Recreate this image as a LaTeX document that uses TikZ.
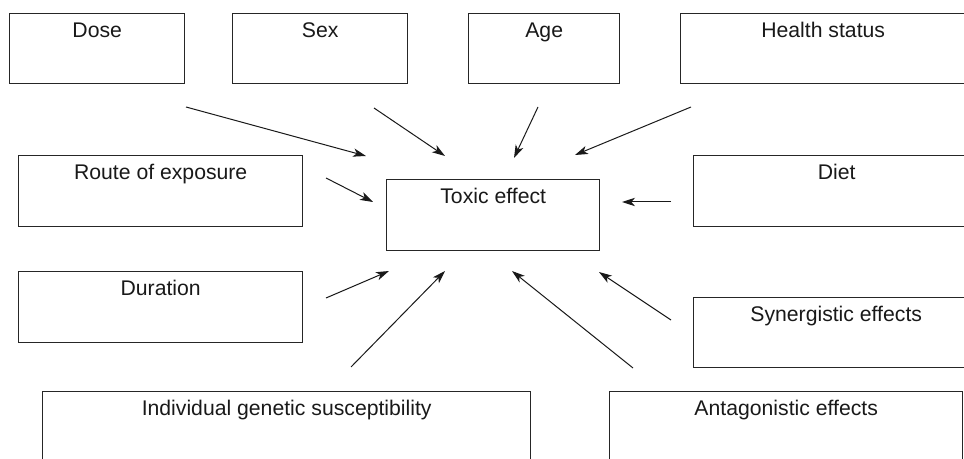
\documentclass[tikz,border=0pt]{standalone}
\usepackage{fontspec}
\setmainfont{Liberation Sans}
\usetikzlibrary{arrows.meta}

\newcommand{\figfont}{\fontsize{10.6}{12}\selectfont}

\tikzset{
  factor/.style={draw=black!85, line width=0.7pt, anchor=north west, inner sep=0pt,
    text height=12pt, font=\figfont, text=black!90},
  influence/.style={-{Stealth[length=6.5pt,width=4.2pt,inset=1.8pt]}, line width=0.5pt, draw=black!90}
}

\begin{document}
\begin{tikzpicture}[x=0.5pt, y=-0.5pt]
    % Fix the frame
    \clip (0,0) rectangle (964,459);

    % Draw the factor boxes
    \node[factor, minimum width=87.5pt, text depth=23pt] (dose) at (9,13) {Dose};
    \node[factor, minimum width=87.5pt, text depth=23pt] (sex) at (232,13) {Sex};
    \node[factor, minimum width=75.5pt, text depth=23pt] (age) at (468,13) {Age};
    \node[factor, minimum width=142.5pt, text depth=23pt] (health) at (680,13) {Health status};
    \node[factor, minimum width=142pt, text depth=23.5pt] (route) at (18,155) {Route of exposure};
    \node[factor, minimum width=143pt, text depth=23.5pt] (diet) at (693,155) {Diet};
    \node[factor, minimum width=106.5pt, text depth=23.5pt] (toxic) at (386,179) {Toxic effect};
    \node[factor, minimum width=142pt, text depth=23.5pt] (duration) at (18,271) {Duration};
    \node[factor, minimum width=142.5pt, text depth=23pt] (synergy) at (693,297) {Synergistic effects};
    \node[factor, minimum width=244pt, text depth=40pt] (genetic) at (42,391) {Individual genetic susceptibility};
    \node[factor, minimum width=176.5pt, text depth=40pt] (antagonism) at (609,391) {Antagonistic effects};

    % Arrow ends
    \coordinate (dose-out) at (186,107);   \coordinate (dose-in) at (366,156);
    \coordinate (sex-out) at (374,108);    \coordinate (sex-in) at (445,156);
    \coordinate (age-out) at (538,107);    \coordinate (age-in) at (514,158);
    \coordinate (health-out) at (691,107); \coordinate (health-in) at (575,155);
    \coordinate (route-out) at (326,178);  \coordinate (route-in) at (373,202);
    \coordinate (diet-out) at (671,202);   \coordinate (diet-in) at (622,202);
    \coordinate (duration-out) at (326,298); \coordinate (duration-in) at (389,271);
    \coordinate (genetic-out) at (351,367);  \coordinate (genetic-in) at (445,271);
    \coordinate (antag-out) at (633,368);    \coordinate (antag-in) at (512,271);
    \coordinate (synergy-out) at (671,320);  \coordinate (synergy-in) at (599,272);

    % Draw the arrows towards the toxic effect
    \draw[influence] (dose-out) -- (dose-in);
    \draw[influence] (sex-out) -- (sex-in);
    \draw[influence] (age-out) -- (age-in);
    \draw[influence] (health-out) -- (health-in);
    \draw[influence] (route-out) -- (route-in);
    \draw[influence] (diet-out) -- (diet-in);
    \draw[influence] (duration-out) -- (duration-in);
    \draw[influence] (genetic-out) -- (genetic-in);
    \draw[influence] (antag-out) -- (antag-in);
    \draw[influence] (synergy-out) -- (synergy-in);
\end{tikzpicture}
\end{document}
